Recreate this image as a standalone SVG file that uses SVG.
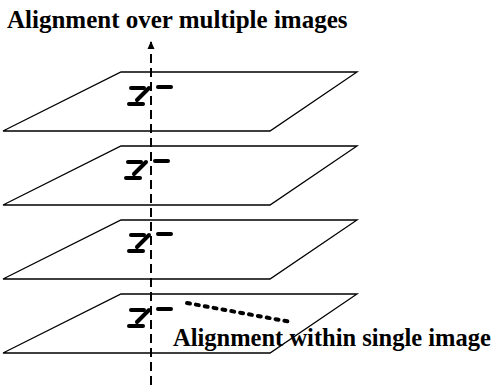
<svg xmlns="http://www.w3.org/2000/svg" width="497" height="385" viewBox="0 0 497 385">
<style>
.plane{fill:none;stroke:#000;stroke-width:1.3}
.mk{stroke:#000;stroke-width:4;stroke-linecap:round;fill:none}
.lbl{font-family:"Liberation Serif","Times New Roman",serif;font-weight:bold;fill:#000}
</style>
<defs>
<marker id="ah" markerWidth="9" markerHeight="9" refX="7" refY="4.5" orient="auto" markerUnits="userSpaceOnUse" viewBox="0 0 9 9">
<path d="M0,1 L8,4.5 L0,8 Z" fill="#000"/>
</marker>
<g id="mark">
<line class="mk" x1="131" y1="0" x2="144" y2="0"/>
<line class="mk" x1="158" y1="-1" x2="171" y2="-1"/>
<line class="mk" x1="149" y1="0" x2="137" y2="12"/>
<line class="mk" x1="129" y1="16" x2="143" y2="16"/>
</g>
</defs>
<rect width="497" height="385" fill="#fff"/>
<text class="lbl" x="7" y="28" font-size="25">Alignment over multiple images</text>
<g id="plane1">
<polygon class="plane" points="121,72 357,72 270,131 3,131"/>
<use href="#mark" y="88"/>
</g>
<g id="plane2">
<polygon class="plane" points="121,146 357,146 270,205 3,205"/>
<use href="#mark" x="-3" y="162"/>
</g>
<g id="plane3">
<polygon class="plane" points="121,220 357,220 270,279 3,279"/>
<use href="#mark" y="235"/>
</g>
<g id="plane4">
<polygon class="plane" points="121,294 357,294 270,353 3,353"/>
<use href="#mark" y="310"/>
</g>
<g id="connectors">
<line x1="151" y1="385" x2="151" y2="42" stroke="#000" stroke-width="2" stroke-dasharray="9 5" marker-end="url(#ah)"/>
<line x1="187" y1="303" x2="291" y2="322" stroke="#000" stroke-width="4" stroke-linecap="round" stroke-dasharray="3 6"/>
</g>
<text class="lbl" x="173" y="346" font-size="24.5">Alignment within single image</text>
</svg>
